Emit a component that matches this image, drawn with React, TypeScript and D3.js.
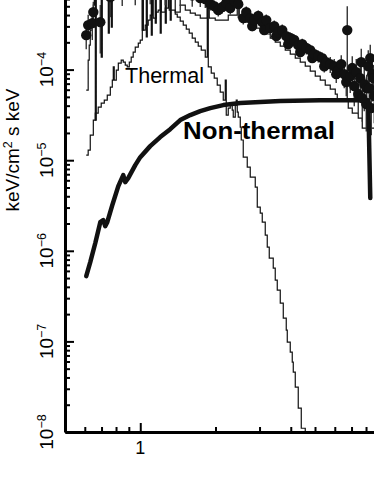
import React, { useEffect, useRef } from "react";
import * as d3 from "d3";

// observed spectrum: energy (keV), flux (keV/cm² s keV), relative error
const dataEnergy = [
  0.608, 0.619, 0.643, 0.649, 0.692, 0.759, 0.847, 0.955, 1.096, 1.259,
  1.445, 1.614, 1.738, 1.82, 1.905, 1.977, 2.051, 2.128, 2.208, 2.291,
  2.377, 2.466, 2.582, 2.655, 2.754, 2.805, 2.858, 2.965, 3.076, 3.133,
  3.192, 3.311, 3.436, 3.499, 3.565, 3.698, 3.837, 3.908, 3.981, 4.13,
  4.285, 4.365, 4.446, 4.613, 4.786, 4.875, 4.966, 5.152, 5.346, 5.445,
  5.546, 5.754, 5.97, 6.081, 6.194, 6.368, 6.546, 6.668, 6.73, 6.918,
  7.047, 7.178, 7.311, 7.447, 7.586, 7.656, 7.727, 7.87, 8.017, 8.05,
  8.166, 8.241, 8.318, 8.395, 8.472, 8.551, 8.63,
];
const dataFlux = [
  2.4e-4, 3.1e-4, 3.26e-4, 4.31e-4, 3.34e-4, 6.31e-4, 7.18e-4, 7.35e-4, 7.5e-4, 7.35e-4,
  7.18e-4, 6.6e-4, 6.15e-4, 6.0e-4, 5.28e-4, 5.02e-4, 4.54e-4, 4.9e-4, 5.42e-4, 4.78e-4,
  5.7e-4, 5.28e-4, 3.7e-4, 4.31e-4, 3.7e-4, 3.02e-4, 3.52e-4, 3.9e-4, 3.34e-4, 2.73e-4,
  3.52e-4, 2.87e-4, 3.02e-4, 2.34e-4, 2.6e-4, 2.73e-4, 2.34e-4, 1.91e-4, 2.23e-4, 2.12e-4,
  1.86e-4, 1.56e-4, 1.91e-4, 1.73e-4, 1.64e-4, 1.34e-4, 1.48e-4, 1.41e-4, 1.34e-4, 1.09e-4,
  1.21e-4, 1.15e-4, 1.09e-4, 8.91e-5, 9.86e-5, 1.15e-4, 8.91e-5, 7.28e-5, 2.73e-4, 8.48e-5,
  1.04e-4, 6.58e-5, 9.38e-5, 5.37e-5, 8.05e-5, 1.21e-4, 4.84e-5, 6.92e-5, 4.16e-5, 6.25e-5,
  1.09e-4, 6.25e-5, 1.34e-4, 3.76e-5, 8.91e-5, 8.05e-5, 5.11e-5,
];
const dataErr = [
  0.3, 0.3, 0.35, 0.3, 0.55, 0.4, 0.3, 0.3, 0.3, 0.3,
  0.3, 0.25, 0.2, 0.2, 0.15, 0.15, 0.15, 0.15, 0.15, 0.15,
  0.15, 0.3, 0.15, 0.15, 0.15, 0.12, 0.15, 0.15, 0.15, 0.12,
  0.15, 0.15, 0.15, 0.12, 0.15, 0.15, 0.15, 0.12, 0.15, 0.15,
  0.15, 0.12, 0.15, 0.15, 0.15, 0.12, 0.15, 0.15, 0.15, 0.15,
  0.15, 0.2, 0.2, 0.2, 0.2, 0.25, 0.3, 0.3, 0.83, 0.35,
  0.35, 0.4, 0.4, 0.4, 0.45, 0.4, 0.45, 0.5, 0.5, 0.4,
  0.5, 0.5, 0.4, 0.5, 0.5, 0.4, 0.5,
];

// thermal model (histogram)
const thermalEnergy = [
  0.608, 0.619, 0.631, 0.649, 0.661, 0.679, 0.698, 0.718, 0.738, 0.759,
  0.773, 0.78, 0.787, 0.802, 0.817, 0.839, 0.855, 0.871, 0.887, 0.904,
  0.92, 0.937, 0.955, 0.982, 1.0, 1.019, 1.028, 1.047, 1.076, 1.096,
  1.117, 1.127, 1.159, 1.18, 1.202, 1.213, 1.259, 1.294, 1.306, 1.343,
  1.38, 1.406, 1.445, 1.486, 1.528, 1.57, 1.614, 1.66, 1.706, 1.754,
  1.82, 1.854, 1.871, 1.923, 1.977, 2.032, 2.089, 2.148, 2.188, 2.208,
  2.249, 2.291, 2.333, 2.355, 2.399, 2.421, 2.443, 2.466, 2.512, 2.535,
  2.582, 2.679, 2.754, 2.884, 2.938, 3.02, 3.076, 3.162, 3.221, 3.281,
  3.404, 3.467, 3.532, 3.631, 3.733, 3.837, 3.873, 3.981, 4.055, 4.093,
  4.169, 4.285, 4.406, 4.571,
];
const thermalFlux = [
  1.14e-5, 1.29e-5, 1.89e-5, 2.77e-5, 3.31e-5, 3.85e-5, 4.27e-5, 4.6e-5, 5.24e-5, 6.41e-5,
  7.66e-5, 1.07e-4, 7.66e-5, 9.86e-5, 1.18e-4, 1.27e-4, 1.21e-4, 1.12e-4, 1.07e-4, 1.21e-4,
  1.37e-4, 1.56e-4, 1.77e-4, 1.96e-4, 2.12e-4, 6.6e-4, 2.73e-4, 3.1e-4, 3.52e-4, 4.0e-4,
  7.5e-4, 3.7e-4, 4.31e-4, 4.54e-4, 7.5e-4, 4.31e-4, 4.78e-4, 7.5e-4, 4.54e-4, 4.54e-4,
  4.1e-4, 3.8e-4, 3.43e-4, 3.1e-4, 2.8e-4, 2.53e-4, 2.23e-4, 2.01e-4, 1.82e-4, 1.64e-4,
  1.37e-4, 5.42e-4, 1.07e-4, 9.14e-5, 8.05e-5, 6.75e-5, 5.65e-5, 4.6e-5, 7.66e-5, 3.15e-5,
  3.76e-5, 4.27e-5, 3.57e-5, 2.99e-5, 4.06e-5, 4.6e-5, 3.4e-5, 2.99e-5, 2.32e-5, 1.67e-5,
  1.08e-5, 8.39e-6, 6.5e-6, 5.05e-6, 3.03e-6, 2.61e-6, 2.07e-6, 1.49e-6, 1.1e-6, 8.32e-7,
  6.44e-7, 4.75e-7, 3.68e-7, 2.65e-7, 1.81e-7, 1.33e-7, 9.82e-8, 7.62e-8, 5.9e-8, 4.58e-8,
  3.13e-8, 1.83e-8, 1.1e-8, 8.1e-9,
];

// total model (histogram)
const totalEnergy = [
  0.608, 0.619, 0.625, 0.631, 0.643, 0.649, 0.655, 0.661, 0.667, 0.673,
  0.698, 0.705, 0.745, 0.752, 0.766, 0.773, 0.832, 0.912, 1.019, 1.028,
  1.057, 1.067, 1.107, 1.117, 1.148, 1.159, 1.202, 1.213, 1.259, 1.271,
  1.318, 1.33, 1.38, 1.445, 1.514, 1.585, 1.66, 1.738, 1.854, 1.888,
  1.995, 2.128, 2.249, 2.443, 2.489, 2.63, 2.754, 2.884, 3.02, 3.162,
  3.311, 3.467, 3.631, 3.802, 3.981, 4.169, 4.365, 4.571, 4.786, 5.012,
  5.248, 5.495, 5.754, 6.026, 6.138, 6.792, 7.047, 7.447, 7.727, 8.63,
];
const totalFlux = [
  5.94e-5, 1.27e-4, 1.86e-4, 2.73e-4, 4.0e-4, 5.15e-4, 6.6e-4, 2.77e-5, 6.6e-4, 7.18e-4,
  1.37e-4, 7.5e-4, 2.53e-4, 7.94e-4, 2.94e-4, 7.94e-4, 8.57e-4, 8.57e-4, 2.73e-4, 8.57e-4,
  2.29e-4, 8.57e-4, 2.4e-4, 8.57e-4, 3.26e-4, 8.57e-4, 2.53e-4, 7.5e-4, 3.26e-4, 7.5e-4,
  3.52e-4, 7.18e-4, 4.31e-4, 5.15e-4, 4.54e-4, 4.21e-4, 4.0e-4, 3.7e-4, 6.6e-4, 3.7e-4,
  3.52e-4, 3.52e-4, 4.0e-4, 6.15e-4, 3.7e-4, 3.34e-4, 3.1e-4, 2.87e-4, 2.66e-4, 2.47e-4,
  2.23e-4, 2.01e-4, 1.82e-4, 1.64e-4, 1.48e-4, 1.34e-4, 1.21e-4, 1.09e-4, 9.62e-5, 8.48e-5,
  7.66e-5, 6.75e-5, 6.1e-5, 5.37e-5, 4.6e-5, 3.76e-5, 3.31e-5, 2.92e-5, 2.26e-5, 2.26e-5,
];

// non-thermal model
const nonThermalEnergy = [
  0.608, 0.631, 0.661, 0.692, 0.711, 0.724, 0.738, 0.773, 0.817, 0.855,
  0.871, 0.895, 0.955, 1.0, 1.096, 1.202, 1.318, 1.445, 1.585, 1.738,
  1.905, 2.148, 2.512, 3.02, 3.631, 5.248, 8.166, 8.318,
];
const nonThermalFlux = [
  5.26e-7, 7.5e-7, 1.22e-6, 2.07e-6, 2.18e-6, 1.87e-6, 2.07e-6, 3.19e-6, 5.18e-6, 6.85e-6,
  5.73e-6, 6.34e-6, 8.83e-6, 1.08e-5, 1.43e-5, 1.8e-5, 2.2e-5, 2.77e-5, 3.15e-5, 3.48e-5,
  3.76e-5, 4.06e-5, 4.27e-5, 4.38e-5, 4.49e-5, 4.6e-5, 4.6e-5, 3.82e-6,
];

const yTickExponents = [-8, -7, -6, -5, -4];
const xTickLabels = [1];
const xMinorTicks = [0.6, 0.7, 0.8, 0.9, 2, 3, 4, 5, 6, 7, 8, 9];

const W = 374;
const H = 484;
const FONT = "'Liberation Sans', Arial, Helvetica, sans-serif";

export default function App() {
  const ref = useRef<SVGSVGElement | null>(null);

  useEffect(() => {
    const svg = d3.select(ref.current);
    svg.selectAll("*").remove();

    const left = 65;
    const bottom = 432;
    const x = d3.scaleLog().domain([0.5, 10]).range([left, left + 250 * Math.log10(20)]);
    const y = d3.scaleLog().domain([1e-8, 1e-3]).range([bottom, bottom - 5 * 90.6]);

    svg
      .append("defs")
      .append("clipPath")
      .attr("id", "plot-clip")
      .append("rect")
      .attr("x", left)
      .attr("y", -30)
      .attr("width", W)
      .attr("height", bottom + 30);

    const plot = svg.append("g").attr("clip-path", "url(#plot-clip)");

    const path = (xs: number[], ys: number[], curve: d3.CurveFactory) =>
      d3
        .line<number>()
        .x((i) => x(xs[i]))
        .y((i) => y(ys[i]))
        .curve(curve)(d3.range(xs.length));

    // thermal model
    plot
      .append("path")
      .attr("d", path(thermalEnergy, thermalFlux, d3.curveStepAfter))
      .attr("fill", "none")
      .attr("stroke", "#111")
      .attr("stroke-width", 1.2);

    // total model
    plot
      .append("path")
      .attr("d", path(totalEnergy, totalFlux, d3.curveStepAfter))
      .attr("fill", "none")
      .attr("stroke", "#111")
      .attr("stroke-width", 1.2);

    // error bars
    const err = (i: number) => dataErr[i] ?? 0.15;
    plot
      .selectAll(".err")
      .data(d3.range(dataEnergy.length))
      .enter()
      .append("line")
      .attr("class", "err")
      .attr("x1", (i) => x(dataEnergy[i]))
      .attr("x2", (i) => x(dataEnergy[i]))
      .attr("y1", (i) => y(dataFlux[i] * (1 + err(i))))
      .attr("y2", (i) => y(dataFlux[i] * (1 - err(i))))
      .attr("stroke", "#333")
      .attr("stroke-width", 1.4);

    // data points
    plot
      .selectAll(".pt")
      .data(d3.range(dataEnergy.length))
      .enter()
      .append("circle")
      .attr("class", "pt")
      .attr("cx", (i) => x(dataEnergy[i]))
      .attr("cy", (i) => y(dataFlux[i]))
      .attr("r", 5.2)
      .attr("fill", "#111");

    // non-thermal model
    plot
      .append("path")
      .attr("d", path(nonThermalEnergy, nonThermalFlux, d3.curveLinear))
      .attr("fill", "none")
      .attr("stroke", "#111")
      .attr("stroke-width", 4.5)
      .attr("stroke-linejoin", "round")
      .attr("stroke-linecap", "round");

    // labels
    svg
      .append("text")
      .attr("x", 125)
      .attr("y", 83)
      .attr("font-family", FONT)
      .attr("font-size", 22)
      .attr("textLength", 79)
      .attr("lengthAdjust", "spacingAndGlyphs")
      .attr("fill", "#000")
      .text("Thermal");

    svg
      .append("text")
      .attr("x", 183)
      .attr("y", 139)
      .attr("font-family", FONT)
      .attr("font-size", 23)
      .attr("font-weight", "bold")
      .attr("textLength", 152)
      .attr("lengthAdjust", "spacingAndGlyphs")
      .attr("fill", "#000")
      .text("Non-thermal");

    // axes
    const yMajor = [...yTickExponents.map((e) => Math.pow(10, e)), 1e-3];
    const yMinor: number[] = [];
    for (let d = -8; d <= -4; d++) {
      for (let k = 2; k <= 9; k++) yMinor.push(k * Math.pow(10, d));
    }

    const yAxis = svg.append("g").attr("transform", `translate(${left},0)`);
    yAxis.call(
      d3.axisRight(y).tickValues(yMajor).tickSize(9).tickSizeOuter(0).tickFormat(() => "")
    );
    yAxis
      .append("g")
      .call(d3.axisRight(y).tickValues(yMinor).tickSize(5).tickFormat(() => ""))
      .select(".domain")
      .remove();

    const xAxis = svg.append("g").attr("transform", `translate(0,${bottom})`);
    xAxis.call(
      d3.axisTop(x).tickValues([1, 10]).tickSize(9).tickSizeOuter(0).tickFormat(() => "")
    );
    xAxis
      .append("g")
      .call(d3.axisTop(x).tickValues(xMinorTicks).tickSize(5).tickFormat(() => ""))
      .select(".domain")
      .remove();

    svg.selectAll(".domain").attr("stroke", "#000").attr("stroke-width", 3);
    svg.selectAll(".tick line").attr("stroke", "#000").attr("stroke-width", 2);

    // y tick labels (rotated)
    yTickExponents.forEach((e) => {
      const t = svg
        .append("text")
        .attr("transform", `translate(53,${y(Math.pow(10, e))}) rotate(-90)`)
        .attr("text-anchor", "middle")
        .attr("font-family", FONT)
        .attr("font-size", 19)
        .attr("fill", "#000");
      t.append("tspan").text("10");
      t.append("tspan").attr("dy", -7).attr("font-size", 12.5).text(`\u2212${-e}`);
    });

    // x tick labels
    xTickLabels.forEach((v) => {
      svg
        .append("text")
        .attr("x", x(v))
        .attr("y", 454)
        .attr("text-anchor", "middle")
        .attr("font-family", FONT)
        .attr("font-size", 18)
        .attr("fill", "#000")
        .text(String(v));
    });

    // y title
    const title = svg
      .append("text")
      .attr("transform", "translate(19,150) rotate(-90)")
      .attr("text-anchor", "middle")
      .attr("font-family", FONT)
      .attr("font-size", 19)
      .attr("fill", "#000");
    title.append("tspan").text("keV/cm");
    title.append("tspan").attr("dy", -7).attr("font-size", 12.5).text("2");
    title.append("tspan").attr("dy", 7).text(" s keV");
  }, []);

  return (
    <svg
      ref={ref}
      width={W}
      height={H}
      style={{ position: "absolute", left: 0, top: 0, background: "#fff", display: "block" }}
    />
  );
}
